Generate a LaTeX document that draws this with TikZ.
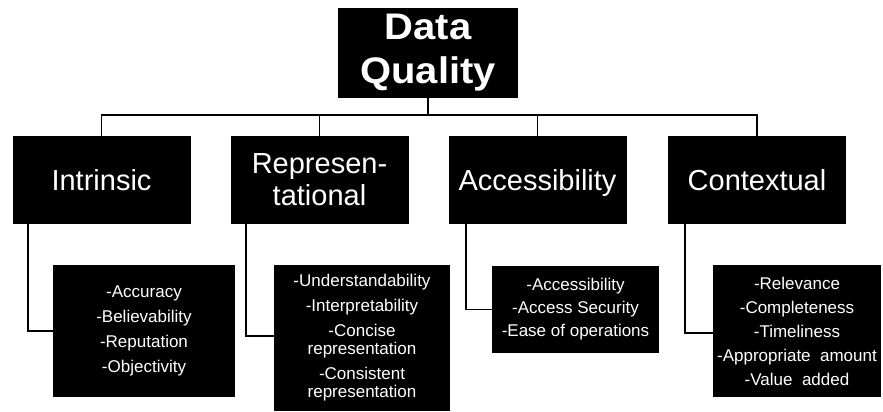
\documentclass[tikz,border=0pt]{standalone}
\usepackage{fontspec}
\setmainfont{Liberation Sans}
\begin{document}
\begin{tikzpicture}[x=1pt,y=-1pt,
  blk/.style={fill=black,draw=none,inner sep=0pt,text=white,align=center},
  conn/.style={draw=black,line width=1.8pt},
  cat/.style={blk,minimum width=178pt,minimum height=88pt,font=\fontsize{29}{32}\selectfont},
  det/.style={blk,font=\fontsize{17}{25}\selectfont}]
\useasboundingbox[fill=white] (0,0) rectangle (883,412);
\node[blk,minimum width=180pt,minimum height=90pt,font=\fontsize{37}{44}\selectfont\bfseries] (dq) at (428,53) {\scalebox{1.08}[1]{Data}\\\scalebox{1.08}[1]{Quality}};
\node[cat] (intr) at (101.5,180) {Intrinsic};
\node[cat] (repr) at (319.5,180) {Represen-\\tational};
\node[cat,text depth=0pt] (acc) at (537.5,180) {Accessibility};
\node[cat] (ctx) at (757,180) {Contextual};
\coordinate (bus) at (428,115);
\draw[conn] (dq.south) -- (bus);
\draw[conn] (intr.north) -- (intr.north |- bus) -- (ctx.north |- bus) -- (ctx.north);
\draw[conn] (repr.north) -- (repr.north |- bus);
\draw[conn] (acc.north) -- (acc.north |- bus);
\node[det,minimum width=182pt,minimum height=132pt] (d1) at (144,331) {-Accuracy\\-Believability\\-Reputation\\-Objectivity};
\node[det,minimum width=176pt,minimum height=146pt,font=\fontsize{17}{18}\selectfont] (d2) at (362,338) {-Understandability\\[7pt]-Interpretability\\[7pt]-Concise\\representation\\[7pt]-Consistent\\representation};
\node[det,minimum width=167pt,minimum height=87pt,font=\fontsize{17}{23}\selectfont] (d3) at (575.5,309.5) {-Accessibility\\-Access Security\\-Ease of operations};
\node[det,minimum width=168pt,minimum height=132pt,font=\fontsize{17}{24}\selectfont] (d4) at (797,331) {-Relevance\\-Completeness\\-Timeliness\\-Appropriate\ \ amount\\-Value\ \ added};
\draw[conn] ([xshift=16pt]intr.south west) |- (d1.west);
\draw[conn] ([xshift=16pt]repr.south west) |- ([yshift=2pt]d2.west);
\draw[conn] ([xshift=18pt]acc.south west) |- (d3.west);
\draw[conn] ([xshift=17pt]ctx.south west) |- ([yshift=-2pt]d4.west);
\end{tikzpicture}
\end{document}
